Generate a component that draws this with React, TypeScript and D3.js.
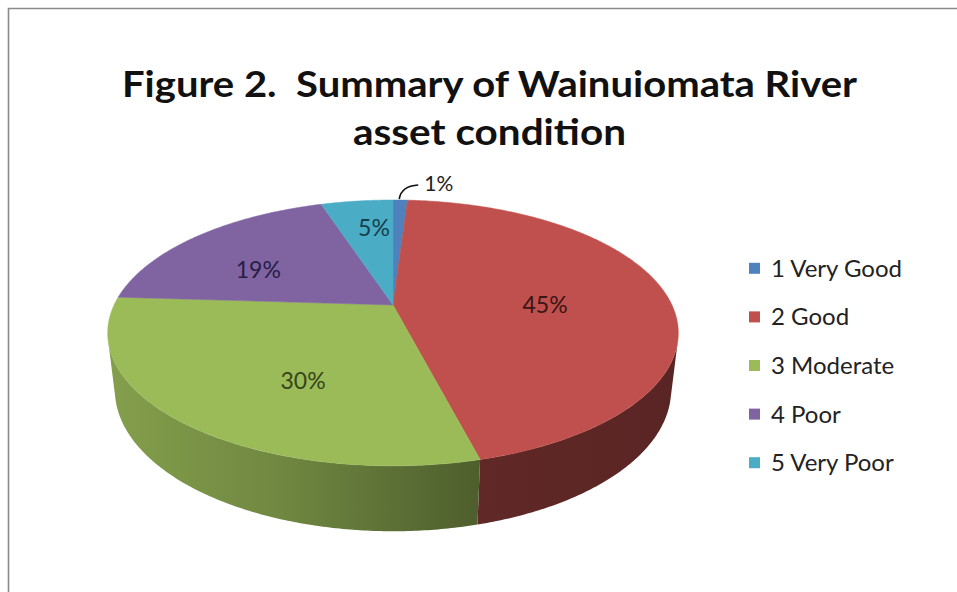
import React from 'react';
import * as d3 from 'd3';

const categories = ['1 Very Good', '2 Good', '3 Moderate', '4 Poor', '5 Very Poor'];
const values = [1, 45, 30, 19, 5];
const valueLabels = ['1%', '45%', '30%', '19%', '5%'];
const colors = ['#4F81BD', '#C0504D', '#9BBB59', '#8064A2', '#4BACC6'];
const labelColors = ['#222222', '#3a1616', '#36451b', '#271d45', '#153f4d'];
const titleLines = ['Figure 2.  Summary of Wainuiomata River', 'asset condition'];

// label placement styling: radius fraction and angular shift (degrees)
const labelRadius = [1, 0.545, 0.604, 0.59, 0.7];
const labelShift = [0, 5.4, -11.3, -8.1, 2.6];

const W = 957;
const H = 592;

// 3D pie projection parameters (camera at distance 1)
const CX = 393;
const CY = 305;
const RAD = 0.236;
const ELEV = (27.1 * Math.PI) / 180;
const FOCAL = 1182;
const THICK = 0.0544;

function proj(a: number, r: number, yw: number): [number, number] {
  const px = r * Math.sin(a);
  const pz = -r * Math.cos(a);
  const xc = px;
  const yc = yw * Math.cos(ELEV) - pz * Math.sin(ELEV);
  const depth = 1 - yw * Math.sin(ELEV) - pz * Math.cos(ELEV);
  return [CX + (FOCAL * xc) / depth, CY - (FOCAL * yc) / depth];
}

function arcPts(a0: number, a1: number, r: number, yw: number): [number, number][] {
  const n = Math.max(2, Math.ceil(Math.abs(a1 - a0) / 0.01));
  const pts: [number, number][] = [];
  for (let i = 0; i <= n; i++) {
    const a = a0 + ((a1 - a0) * i) / n;
    pts.push(proj(a, r, yw));
  }
  return pts;
}

const line = d3.line();
const FONT = "Lato, 'Open Sans', sans-serif";

export default function App() {
  const pie = d3.pie<number>().sort(null).startAngle(0).endAngle(2 * Math.PI);
  const arcs = pie(values);

  const visA = Math.acos(-RAD / Math.cos(ELEV));
  const visB = 2 * Math.PI - visA;

  const left = proj(-Math.PI / 2 - 0.2, RAD, 0)[0];
  const right = proj(Math.PI / 2 + 0.2, RAD, 0)[0];

  const shadeStops = [
    [0, 0.45],
    [0.3, 0.9],
    [0.66, 1.95],
    [1, 2.15],
  ];

  const sides = arcs.map((d, i) => {
    const s = Math.max(d.startAngle, visA);
    const e = Math.min(d.endAngle, visB);
    if (e <= s) return null;
    const top = arcPts(s, e, RAD, 0);
    const bot = arcPts(e, s, RAD, -THICK);
    return <path key={'side' + i} d={line([...top, ...bot])! + 'Z'} fill={`url(#side${i})`} />;
  });

  const tops = arcs.map((d, i) => {
    const pts = [proj(0, 0, 0), ...arcPts(d.startAngle, d.endAngle, RAD, 0)];
    return <path key={'top' + i} d={line(pts)! + 'Z'} fill={colors[i]} stroke={colors[i]} strokeWidth={0.5} />;
  });

  const labels = arcs.map((d, i) => {
    const mid = (d.startAngle + d.endAngle) / 2 + (labelShift[i] * Math.PI) / 180;
    if (i === 0) {
      const [x, y] = proj(mid, RAD, 0);
      const p = `M${x - 1},${y - 1} Q${x + 1},${y - 14} ${x + 18},${y - 15}`;
      return (
        <g key={'lab' + i}>
          <path d={p} fill="none" stroke="#111" strokeWidth={1.6} />
          <text x={x + 24} y={y - 16} dy="0.35em" fontSize={21} fill={labelColors[i]} fontFamily={FONT}>
            {valueLabels[i]}
          </text>
        </g>
      );
    }
    const [x, y] = proj(mid, RAD * labelRadius[i], 0);
    return (
      <text key={'lab' + i} x={x} y={y} dy="0.35em" textAnchor="middle" fontSize={23} fill={labelColors[i]} fontFamily={FONT}>
        {valueLabels[i]}
      </text>
    );
  });

  const legendY = d3.scaleBand<string>().domain(categories).range([244, 487]);

  return (
    <svg width={W} height={H} style={{ position: 'absolute', left: 0, top: 0, background: '#fff' }}>
      <defs>
        {colors.map((c, i) => (
          <linearGradient key={i} id={`side${i}`} gradientUnits="userSpaceOnUse" x1={left} x2={right} y1={0} y2={0}>
            {shadeStops.map(([o, k], j) => (
              <stop key={j} offset={o} stopColor={d3.color(c)!.darker(k).formatHex()} />
            ))}
          </linearGradient>
        ))}
      </defs>
      <rect x={0} y={0} width={W} height={H} fill="#fff" />
      <path d={`M8.5,${H} V8.5 H${W}`} fill="none" stroke="#8a8a8a" strokeWidth={1.6} />
      {titleLines.map((t, i) => (
        <text
          key={t}
          x={489.5}
          y={97 + i * 48}
          textAnchor="middle"
          fontFamily={FONT}
          fontWeight="bold"
          fontSize={36}
          fill="#111"
          textLength={i === 0 ? 735 : 273}
          lengthAdjust="spacingAndGlyphs"
          style={{ whiteSpace: 'pre' }}
        >
          {t}
        </text>
      ))}
      {sides}
      {tops}
      {labels}
      {categories.map((c, i) => {
        const y = legendY(c)! + legendY.bandwidth() / 2;
        return (
          <g key={c}>
            <rect x={749} y={y - 5.5} width={11} height={11} fill={colors[i]} />
            <text x={771} y={y} dy="0.35em" fontSize={24} fill="#222" fontFamily={FONT}>
              {c}
            </text>
          </g>
        );
      })}
    </svg>
  );
}
